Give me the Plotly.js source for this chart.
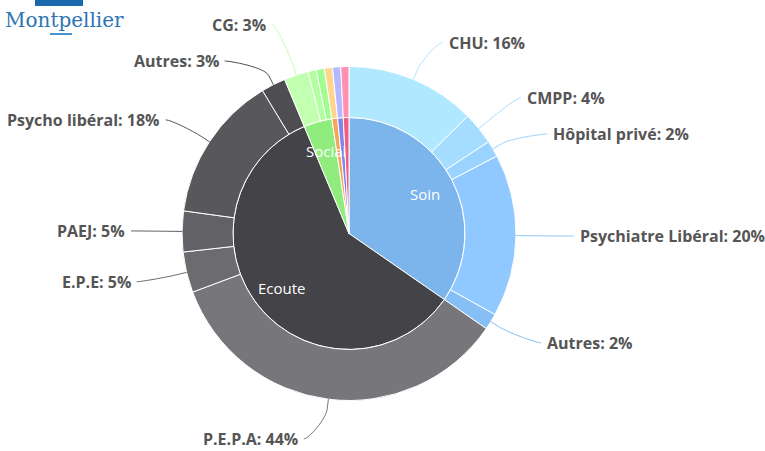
<!DOCTYPE html>
<html>
<head>
<meta charset="utf-8">
<script src="https://cdn.plot.ly/plotly-3.0.1.min.js"></script>
<style>
html, body { margin:0; padding:0; background:#fff; }
#chart { width:765px; height:451px; }
</style>
</head>
<body>
<div id="chart"></div>
<script>
// catégories de l'anneau intérieur
const groupNames = ["Soin", "Ecoute", "Social", "Autre 1", "Autre 2", "Autre 3"];
// sous-catégories de l'anneau extérieur (par catégorie)
const subNames = [
  ["CHU", "CMPP", "Hôpital privé", "Psychiatre Libéral", "Autres"],
  ["P.E.P.A", "E.P.E", "PAEJ", "Psycho libéral", "Autres"],
  ["CG", "Social 2", "Social 3"],
  ["Autre 1"],
  ["Autre 2"],
  ["Autre 3"]
];
// valeurs en %
const subValues = [
  [16, 4, 2, 20, 2],
  [44, 5, 5, 18, 3],
  [3, 1, 1],
  [1],
  [1],
  [1]
];

// palette Highcharts
const baseColors = ["#7cb5ec", "#434348", "#90ed7d", "#f7a35c", "#8085e9", "#f15c80"];

function brighten(hex, b){
    const n = parseInt(hex.slice(1), 16);
    const add = parseInt(255 * b);
    const c = [(n >> 16) & 255, (n >> 8) & 255, n & 255].map(v => Math.max(0, Math.min(255, v + add)));
    return "rgb(" + c.join(",") + ")";
}

// géométrie (pixels)
const W = 765, H = 451;
const CX = 349, CY = 233.5, R_OUT = 167, R_IN = 116;
const R_LAB = 207, SLOT = 36;
const px = x => x / W;
const py = y => 1 - y / H;
const ptAt = (a, r) => [CX + r * Math.sin(a), CY - r * Math.cos(a)];

const groupValues = subValues.map(arr => arr.reduce((s, v) => s + v, 0));
const total = groupValues.reduce((s, v) => s + v, 0);

// données des anneaux
const innerColors = baseColors.slice(0, groupNames.length);
const outerLabels = [], outerNames = [], outerValues = [], outerColors = [];
subNames.forEach((names, i) => {
    names.forEach((nm, j) => {
        outerLabels.push(groupNames[i] + " / " + nm);
        outerNames.push(nm);
        outerValues.push(subValues[i][j]);
        outerColors.push(brighten(baseColors[i], 0.2 - (j / names.length) / 5));
    });
});

const traces = [{
    type: "pie",
    labels: groupNames,
    values: groupValues,
    customdata: groupNames,
    marker: {colors: innerColors, line: {color: "#ffffff", width: 1}},
    sort: false, direction: "clockwise", rotation: 0,
    textinfo: "none",
    hovertemplate: "%{customdata}: %{value}%<extra></extra>",
    domain: {x: [px(CX - R_IN), px(CX + R_IN)], y: [py(CY + R_IN), py(CY - R_IN)]},
    showlegend: false
}, {
    type: "pie",
    labels: outerLabels,
    values: outerValues,
    customdata: outerNames,
    hole: R_IN / R_OUT,
    marker: {colors: outerColors, line: {color: "#ffffff", width: 1}},
    sort: false, direction: "clockwise", rotation: 0,
    textinfo: "none",
    hovertemplate: "%{customdata}: %{value}%<extra></extra>",
    domain: {x: [px(CX - R_OUT), px(CX + R_OUT)], y: [py(CY + R_OUT), py(CY - R_OUT)]},
    showlegend: false
}];

const annotations = [];
const shapes = [];

// étiquettes intérieures
let acc = 0;
groupValues.forEach((v, i) => {
    const mid = (acc + v / 2) / total * 2 * Math.PI;
    acc += v;
    if (v < 5) return;
    const p = ptAt(mid, R_IN - 30);
    annotations.push({
        xref: "paper", yref: "paper", x: px(p[0]), y: py(p[1]),
        text: groupNames[i], showarrow: false,
        font: {family: "Open Sans", size: 15, color: "#ffffff"}
    });
});

// étiquettes extérieures
const labs = [];
acc = 0;
outerValues.forEach((v, k) => {
    const mid = (acc + v / 2) / total * 2 * Math.PI;
    acc += v;
    if (v <= 1) return;
    labs.push({
        text: outerNames[k] + ": " + v + "%",
        angle: mid,
        color: outerColors[k],
        left: Math.sin(mid) < 0,
        ny: CY - R_LAB * Math.cos(mid)
    });
});

function distribute(items){
    items.sort((a, b) => a.ny - b.ny);
    const boxes = items.map(it => ({items: [it], pos: it.ny - SLOT / 2}));
    let changed = true;
    while (changed) {
        changed = false;
        for (let i = 1; i < boxes.length; i++) {
            const a = boxes[i - 1], b = boxes[i];
            if (a.pos + a.items.length * SLOT > b.pos) {
                a.items = a.items.concat(b.items);
                const t = a.items.reduce((s, it) => s + it.ny, 0) / a.items.length;
                a.pos = t - a.items.length * SLOT / 2;
                boxes.splice(i, 1);
                changed = true;
                break;
            }
        }
    }
    boxes.forEach(b => b.items.forEach((it, k) => { it.y = b.pos + SLOT * k + SLOT / 2; }));
}
distribute(labs.filter(l => !l.left));
distribute(labs.filter(l => l.left));

labs.forEach(l => {
    const yx = Math.abs(l.ny - CY) > 0.93 * R_LAB ? l.ny : l.y;
    const A = l.left ? 218 : 225, B = 210;
    const t = Math.max(0, 1 - Math.pow((yx - CY) / B, 2));
    const dx = A * Math.sqrt(t);
    const sgn = l.left ? -1 : 1;
    const xc = CX + sgn * dx;

    annotations.push({
        xref: "paper", yref: "paper",
        x: px(xc + sgn * 4), y: py(l.y),
        xanchor: l.left ? "right" : "left", yanchor: "middle",
        text: l.text, showarrow: false,
        font: {family: "Open Sans", size: 16, color: "#555555", weight: 700}
    });

    const p4 = ptAt(l.angle, R_OUT);
    const p2 = ptAt(l.angle, R_OUT + 10);
    const p2b = ptAt(l.angle, R_OUT + 20);
    const P = (x, y) => px(x).toFixed(5) + "," + py(y).toFixed(5);
    shapes.push({
        type: "path", xref: "paper", yref: "paper",
        path: "M" + P(xc, l.y) + " C" + P(xc - sgn * 5, l.y) + " " + P(p2b[0], p2b[1]) + " " + P(p2[0], p2[1]) +
              " L" + P(p4[0], p4[1]),
        line: {color: l.color, width: 1}
    });
});

// logo
shapes.push({type: "rect", xref: "paper", yref: "paper",
    x0: px(35), x1: px(83), y0: py(6), y1: py(0),
    fillcolor: "#1c68ad", line: {width: 0}});
shapes.push({type: "rect", xref: "paper", yref: "paper",
    x0: px(50), x1: px(72), y0: py(35), y1: py(33),
    fillcolor: "#4b93cf", line: {width: 0}});
annotations.push({
    xref: "paper", yref: "paper", x: px(3), y: py(20),
    xanchor: "left", yanchor: "middle",
    text: "Montpellier", showarrow: false,
    font: {family: "DejaVu Serif", size: 20, color: "#2d74b2"}
});

const layout = {
    width: W, height: H,
    margin: {l: 0, r: 0, t: 0, b: 0},
    paper_bgcolor: "#ffffff",
    font: {family: "Open Sans"},
    showlegend: false,
    annotations: annotations,
    shapes: shapes
};

Plotly.newPlot("chart", traces, layout, {displayModeBar: false});
</script>
</body>
</html>
